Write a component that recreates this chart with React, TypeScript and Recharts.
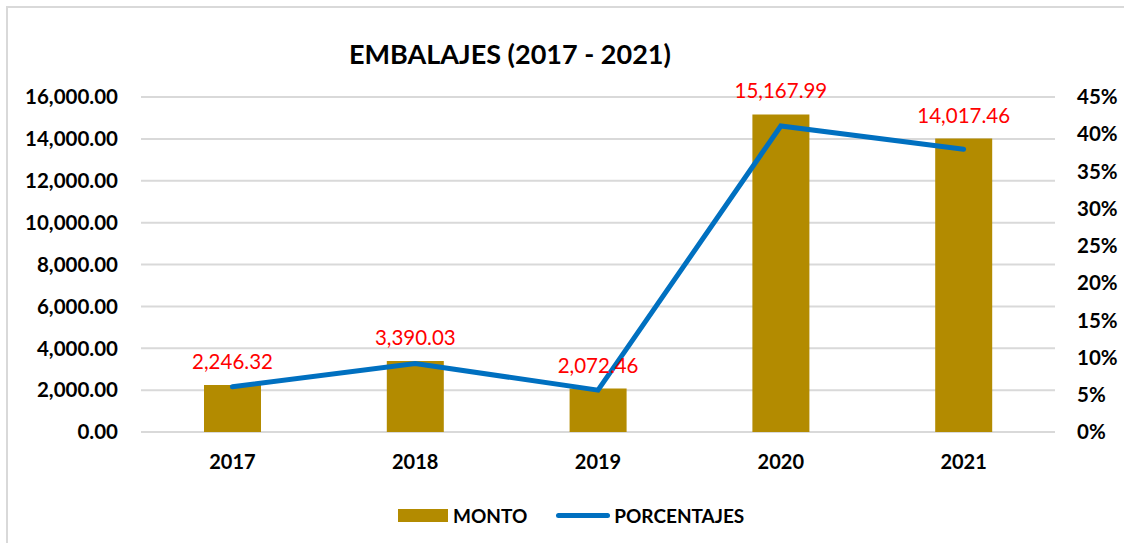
import React from "react";
import {
  ComposedChart,
  Bar,
  Line,
  XAxis,
  YAxis,
  CartesianGrid,
  LabelList,
} from "recharts";

const years = ["2017", "2018", "2019", "2020", "2021"];
const montos = [2246.32, 3390.03, 2072.46, 15167.99, 14017.46];
const porcentajes = [6.09, 9.19, 5.62, 41.11, 37.99];
const leftTicks = [0, 2000, 4000, 6000, 8000, 10000, 12000, 14000, 16000];
const rightTicks = [0, 5, 10, 15, 20, 25, 30, 35, 40, 45];
const title = "EMBALAJES (2017 - 2021)";
const seriesNames = ["MONTO", "PORCENTAJES"];

const data = years.map((y, i) => ({ year: y, monto: montos[i], pct: porcentajes[i] }));

const FONT = "Lato, 'Open Sans', sans-serif";
const GOLD = "#B38B00";
const BLUE = "#0070C0";

const fmt = (v: any) =>
  Number(v).toLocaleString("en-US", { minimumFractionDigits: 2, maximumFractionDigits: 2 });

const LegendContent = () => (
  <div
    style={{
      display: "flex",
      justifyContent: "flex-start",
      alignItems: "center",
      fontFamily: FONT,
      fontWeight: 700,
      fontSize: 19,
      color: "#000",
      paddingLeft: 398,
    }}
  >
    <span style={{ display: "inline-block", width: 50, height: 13, background: GOLD, marginRight: 5 }} />
    <span style={{ marginRight: 29 }}>{seriesNames[0]}</span>
    <span
      style={{
        display: "inline-block",
        width: 54,
        height: 5,
        borderRadius: 3,
        background: BLUE,
        marginRight: 4,
      }}
    />
    <span>{seriesNames[1]}</span>
  </div>
);

export default function App() {
  return (
    <div
      style={{
        position: "absolute",
        left: 0,
        top: 0,
        width: 1124,
        height: 547,
        background: "#fff",
        overflow: "hidden",
        fontFamily: FONT,
      }}
    >
      <div
        style={{
          position: "absolute",
          left: 6,
          top: 6,
          width: 1200,
          height: 535,
          borderTop: "2px solid #d9d9d9",
          borderLeft: "2px solid #d9d9d9",
        }}
      />
      <div
        style={{
          position: "absolute",
          left: 0,
          width: 1020,
          top: 36,
          textAlign: "center",
          fontSize: 27,
          fontWeight: 700,
          color: "#000",
          lineHeight: "36px",
        }}
      >
        {title}
      </div>
      <div style={{ position: "absolute", left: 0, top: 0 }}>
        <ComposedChart
          width={1124}
          height={547}
          data={data}
          margin={{ top: 97, right: 0, bottom: 85, left: 0 }}
        >
          <CartesianGrid vertical={false} stroke="#d9d9d9" strokeWidth={2} />
          <XAxis
            dataKey="year"
            height={30}
            axisLine={false}
            tickLine={false}
            tickSize={0}
            tickMargin={23}
            tick={{ fontFamily: FONT, fontSize: 20, fontWeight: 700, fill: "#000" }}
          />
          <YAxis
            width={141}
            domain={[0, 16000]}
            ticks={leftTicks}
            interval={0}
            axisLine={false}
            tickLine={false}
            tickSize={0}
            tickMargin={23}
            tickFormatter={fmt}
            tick={{ fontFamily: FONT, fontSize: 20.5, fontWeight: 700, fill: "#000" }}
          />
          <YAxis
            yAxisId="right"
            orientation="right"
            width={69}
            domain={[0, 45]}
            ticks={rightTicks}
            interval={0}
            axisLine={false}
            tickLine={false}
            tickSize={0}
            tickMargin={22}
            tickFormatter={(v: any) => `${v}%`}
            tick={{ fontFamily: FONT, fontSize: 20.5, fontWeight: 700, fill: "#000" }}
          />
          <Bar dataKey="monto" name={seriesNames[0]} fill={GOLD} barSize={57} isAnimationActive={false}>
            <LabelList
              dataKey="monto"
              position="top"
              offset={16}
              formatter={fmt}
              style={{ fontFamily: FONT, fontSize: 20.5, fill: "#FF0000" }}
            />
          </Bar>
          <Line
            yAxisId="right"
            dataKey="pct"
            name={seriesNames[1]}
            type="linear"
            stroke={BLUE}
            strokeWidth={5}
            strokeLinecap="round"
            dot={false}
            activeDot={false}
            isAnimationActive={false}
          />
        </ComposedChart>
      </div>
      <div style={{ position: "absolute", left: 0, top: 504, width: 1124 }}>
        <LegendContent />
      </div>
    </div>
  );
}
